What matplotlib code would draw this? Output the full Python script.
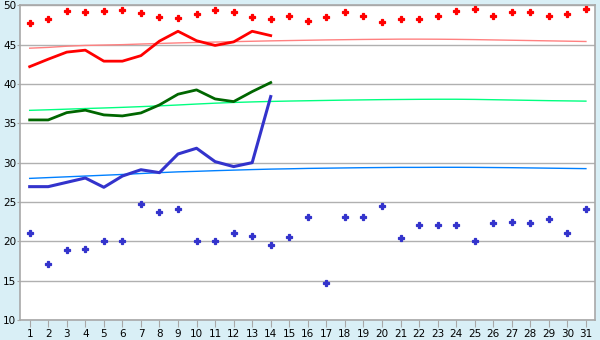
import matplotlib
matplotlib.use('Agg')
import matplotlib.pyplot as plt

days = list(range(1, 32))

# daily points (red = highs, blue = lows)
red_pts = [47.7, 48.2, 49.3, 49.1, 49.3, 49.4, 49.0, 48.5, 48.4, 48.9,
           49.4, 49.1, 48.5, 48.2, 48.6, 48.0, 48.5, 49.1, 48.6, 47.9,
           48.2, 48.2, 48.6, 49.3, 49.5, 48.6, 49.1, 49.1, 48.6, 48.9, 49.5]
blue_pts = [21.0, 17.1, 18.85, 19.0, 20.0, 20.0, 24.8, 23.7, 24.05, 20.0,
            20.0, 21.0, 20.65, 19.5, 20.5, 23.05, 14.65, 23.05, 23.05, 24.55,
            20.4, 22.05, 22.05, 22.05, 20.0, 22.3, 22.4, 22.3, 22.8, 21.0, 24.05]

# lines for first 14 days
red_line = [42.2, 43.15, 44.05, 44.3, 42.9, 42.9, 43.6, 45.45, 46.7, 45.5,
            44.9, 45.35, 46.7, 46.15]
green_line = [35.43, 35.43, 36.36, 36.67, 36.07, 35.94, 36.32, 37.34, 38.7, 39.25,
              38.1, 37.76, 39.03, 40.18]
blue_line = [26.95, 26.95, 27.5, 28.05, 26.87, 28.3, 29.1, 28.73, 31.1, 31.83,
             30.13, 29.5, 30.0, 38.4]

# normal curves
red_norm = [44.55, 44.65, 44.8, 44.9, 44.95, 45.0, 45.08, 45.15, 45.22, 45.28,
            45.33, 45.38, 45.43, 45.48, 45.52, 45.56, 45.6, 45.63, 45.66, 45.68,
            45.7, 45.7, 45.69, 45.67, 45.64, 45.6, 45.56, 45.52, 45.48, 45.44, 45.4]
green_norm = [36.65, 36.72, 36.8, 36.88, 36.95, 37.03, 37.12, 37.22, 37.33, 37.45,
              37.56, 37.65, 37.72, 37.78, 37.83, 37.87, 37.91, 37.95, 37.98, 38.01,
              38.03, 38.05, 38.06, 38.06, 38.04, 38.0, 37.96, 37.92, 37.88, 37.85, 37.82]
blue_norm = [28.0, 28.1, 28.2, 28.3, 28.4, 28.5, 28.62, 28.73, 28.83, 28.9,
             28.98, 29.05, 29.12, 29.18, 29.22, 29.27, 29.3, 29.33, 29.36, 29.38,
             29.4, 29.4, 29.41, 29.41, 29.4, 29.38, 29.36, 29.33, 29.3, 29.27, 29.24]

bg = '#d9eff6'
fig = plt.figure(figsize=(6, 3.4), dpi=100, facecolor=bg)
ax = fig.add_axes([0.034, 0.0588, 0.958, 0.9256])
ax.set_facecolor('white')

ax.plot(days, red_norm, color='#ff8080', lw=1.0)
ax.plot(days, green_norm, color='#00ff80', lw=1.0)
ax.plot(days, blue_norm, color='#0080ff', lw=1.0)

ax.plot(days[:14], red_line, color='#ff0000', lw=2.0)
ax.plot(days[:14], green_line, color='#006600', lw=2.0)
ax.plot(days[:14], blue_line, color='#3333cc', lw=2.2)

ax.plot(days, red_pts, 'P', color='#ff0000', ms=5, mew=0.9, ls='none')
ax.plot(days, blue_pts, 'P', color='#3333cc', ms=5, mew=0.9, ls='none')

ax.set_xlim(0.5, 31.5)
ax.set_ylim(10, 50)
ax.set_xticks(days)
ax.set_yticks(range(10, 51, 5))
ax.yaxis.grid(True, color='#b0b0b0', lw=1)
ax.set_axisbelow(True)
for s in ax.spines.values():
    s.set_color('#a8a8a8')
    s.set_linewidth(1.2)
ax.tick_params(axis='x', length=5, color='#a8a8a8', labelsize=7.5, pad=1.5)
ax.tick_params(axis='y', length=2.5, color='#a8a8a8', labelsize=7.5, pad=0.5)

plt.savefig('out.png', dpi=100, facecolor=bg)
